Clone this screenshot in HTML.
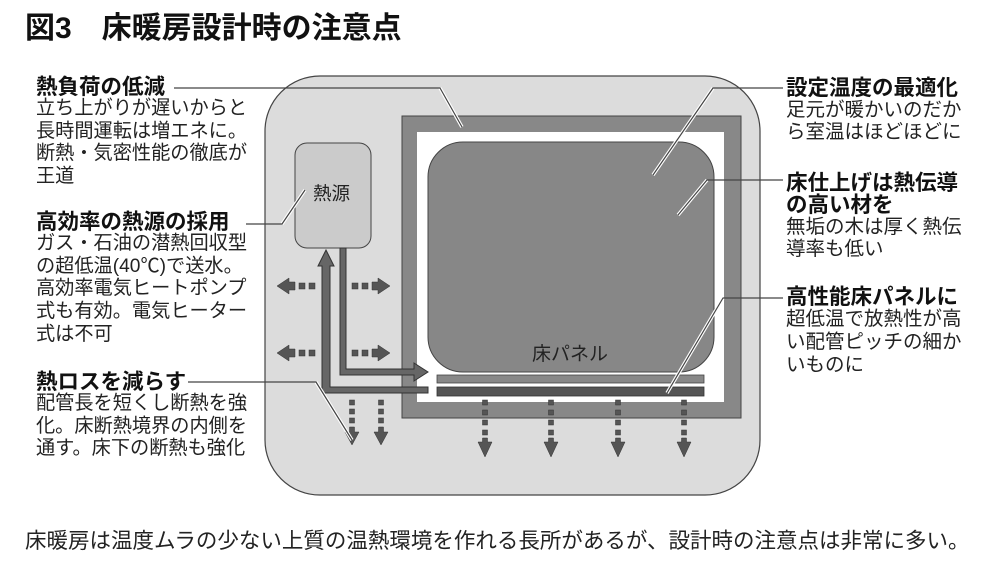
<!DOCTYPE html>
<html><head><meta charset="utf-8"><style>
body{margin:0;background:#fff;width:998px;height:575px;overflow:hidden;position:relative;font-family:"Liberation Sans","Noto Sans CJK JP",sans-serif;color:#111}
.t{position:absolute;white-space:nowrap}
.h{font-weight:bold;font-size:21.5px;line-height:22px}
.b{font-size:19.2px;line-height:22.7px;color:#222}
</style></head><body>
<svg width="998" height="575" style="position:absolute;left:0;top:0">
<defs>
<g id="dl"><rect x="0" y="-3" width="6" height="6" fill="#555" stroke="#333" stroke-width=".5"/><rect x="10" y="-3" width="6" height="6" fill="#555" stroke="#333" stroke-width=".5"/><path d="M20,-4 L26,-4 L26,-8 L38,0 L26,8 L26,4 L20,4Z" fill="#555" stroke="#333" stroke-width=".5"/></g>
</defs>
<rect x="265" y="76" width="495" height="419" rx="55" fill="#dcdcdc" stroke="#444" stroke-width="1.2"/>
<rect x="402" y="116" width="339" height="302" fill="#888" stroke="#444"/>
<rect x="417" y="132" width="307" height="270" fill="#fff"/>
<rect x="428" y="142" width="286" height="230" rx="35" fill="#878787" stroke="#444"/>
<rect x="437" y="375" width="267" height="8" fill="#888" stroke="#444" stroke-width=".8"/>
<rect x="437" y="387" width="267" height="9" fill="#555" stroke="#333" stroke-width=".8"/>
<rect x="295" y="143" width="76" height="105" rx="12" fill="#cbcbcb" stroke="#444"/>
<path d="M322,393 L322,266 L318,266 L326,250 L334,266 L330,266 L330,387 L428,387 L428,393Z" fill="#666" stroke="#333"/>
<path d="M340,248 L346,248 L346,369 L414,369 L414,363 L428,372 L414,381 L414,375 L340,375Z" fill="#666" stroke="#333"/>
<use href="#dl" transform="translate(315,286) scale(-1,1)"/>
<use href="#dl" transform="translate(315,353) scale(-1,1)"/>
<use href="#dl" transform="translate(352,286)"/>
<use href="#dl" transform="translate(352,353)"/>
<g fill="#555" stroke="#333" stroke-width=".5">
<g transform="translate(352,400)"><rect x="-2.5" y="0" width="5" height="5"/><rect x="-2.5" y="9" width="5" height="5"/><rect x="-2.5" y="18" width="5" height="5"/><path d="M-2.5,27 L2.5,27 L2.5,32 L7,32 L0,45 L-7,32 L-2.5,32Z"/></g>
<g transform="translate(381,400)"><rect x="-2.5" y="0" width="5" height="5"/><rect x="-2.5" y="9" width="5" height="5"/><rect x="-2.5" y="18" width="5" height="5"/><path d="M-2.5,27 L2.5,27 L2.5,32 L7,32 L0,45 L-7,32 L-2.5,32Z"/></g>
<g transform="translate(485,400)"><rect x="-2.5" y="0" width="5" height="5"/><rect x="-2.5" y="10" width="5" height="5"/><rect x="-2.5" y="20" width="5" height="5"/><rect x="-2.5" y="30" width="5" height="5"/><path d="M-2.5,38 L2.5,38 L2.5,42 L7,42 L0,57 L-7,42 L-2.5,42Z"/></g>
<g transform="translate(551,400)"><rect x="-2.5" y="0" width="5" height="5"/><rect x="-2.5" y="10" width="5" height="5"/><rect x="-2.5" y="20" width="5" height="5"/><rect x="-2.5" y="30" width="5" height="5"/><path d="M-2.5,38 L2.5,38 L2.5,42 L7,42 L0,57 L-7,42 L-2.5,42Z"/></g>
<g transform="translate(618,400)"><rect x="-2.5" y="0" width="5" height="5"/><rect x="-2.5" y="10" width="5" height="5"/><rect x="-2.5" y="20" width="5" height="5"/><rect x="-2.5" y="30" width="5" height="5"/><path d="M-2.5,38 L2.5,38 L2.5,42 L7,42 L0,57 L-7,42 L-2.5,42Z"/></g>
<g transform="translate(684,400)"><rect x="-2.5" y="0" width="5" height="5"/><rect x="-2.5" y="10" width="5" height="5"/><rect x="-2.5" y="20" width="5" height="5"/><rect x="-2.5" y="30" width="5" height="5"/><path d="M-2.5,38 L2.5,38 L2.5,42 L7,42 L0,57 L-7,42 L-2.5,42Z"/></g>
</g>
<g fill="none" stroke-linejoin="round">
<g stroke="#fff" stroke-width="3.5">
<path d="M440,88 L462,127"/><path d="M713,88 L653,175"/><path d="M707,180 L678,215"/><path d="M723,298 L667,393"/><path d="M282,224 L305,190"/><path d="M316,382 L352,440"/>
</g>
<g stroke="#444" stroke-width="1.2">
<path d="M174,88 L440,88 L462,127"/><path d="M783,88 L713,88 L653,175"/><path d="M783,180 L707,180 L678,215"/><path d="M783,298 L723,298 L667,393"/><path d="M246,224 L282,224 L305,190"/><path d="M188,382 L316,382 L352,440"/>
</g></g>
<text x="313" y="200" font-size="18.5" fill="#222" font-family="Liberation Sans, Noto Sans CJK JP, sans-serif">熱源</text>
<text x="532" y="360" font-size="19" fill="#222" font-family="Liberation Sans, Noto Sans CJK JP, sans-serif">床パネル</text>
</svg>
<div class="t" style="left:25px;top:11px;font-size:30px;font-weight:bold;line-height:36px">図3　床暖房設計時の注意点</div>
<div class="t" style="left:36px;top:76px"><div class="h">熱負荷の低減</div><div class="b">立ち上がりが遅いからと<br>長時間運転は増エネに。<br>断熱・気密性能の徹底が<br>王道</div></div>
<div class="t" style="left:36px;top:211px"><div class="h">高効率の熱源の採用</div><div class="b">ガス・石油の潜熱回収型<br>の超低温(40℃)で送水。<br>高効率電気ヒートポンプ<br>式も有効。電気ヒーター<br>式は不可</div></div>
<div class="t" style="left:36px;top:371px"><div class="h">熱ロスを減らす</div><div class="b">配管長を短くし断熱を強<br>化。床断熱境界の内側を<br>通す。床下の断熱も強化</div></div>
<div class="t" style="left:786px;top:77px"><div class="h">設定温度の最適化</div><div class="b" style="line-height:22px;font-size:19.5px">足元が暖かいのだか<br>ら室温はほどほどに</div></div>
<div class="t" style="left:786px;top:172px"><div class="h">床仕上げは熱伝導<br>の高い材を</div><div class="b" style="line-height:22px;font-size:19.5px">無垢の木は厚く熱伝<br>導率も低い</div></div>
<div class="t" style="left:786px;top:286px"><div class="h">高性能床パネルに</div><div class="b" style="line-height:23px;font-size:19.5px">超低温で放熱性が高<br>い配管ピッチの細か<br>いものに</div></div>
<div class="t" style="left:25px;top:527px;font-size:21.5px;line-height:28px;color:#222">床暖房は温度ムラの少ない上質の温熱環境を作れる長所があるが、設計時の注意点は非常に多い。</div>
</body></html>
